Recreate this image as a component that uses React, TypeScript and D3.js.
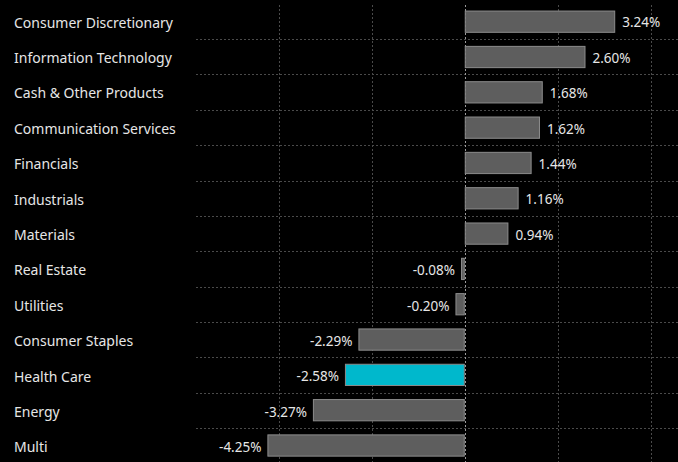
import React from "react";
import * as d3 from "d3";

const categories = [
  "Consumer Discretionary",
  "Information Technology",
  "Cash & Other Products",
  "Communication Services",
  "Financials",
  "Industrials",
  "Materials",
  "Real Estate",
  "Utilities",
  "Consumer Staples",
  "Health Care",
  "Energy",
  "Multi",
];
const values = [3.24, 2.6, 1.68, 1.62, 1.44, 1.16, 0.94, -0.08, -0.2, -2.29, -2.58, -3.27, -4.25];
const highlight = "Health Care";
const xTicks = [-4, -2, 0, 2, 4];

const W = 678;
const H = 462;
const FONT = "'Noto Sans', sans-serif";

export default function App() {
  const x = d3.scaleLinear().domain([-4, 4]).range([279, 650.5]);
  const y = d3.scaleBand<string>().domain(categories).range([3.5, 463.7]).paddingInner(0.37).paddingOuter(0.2);
  const band = d3.scaleBand<string>().domain(categories).range([3.5, 463.7]);
  const gridLeft = 196;
  const fmt = (v: number) => v.toFixed(2) + "%";

  return (
    <svg width={W} height={H} style={{ position: "fixed", left: 0, top: 0, background: "#000" }}>
      <rect x={0} y={0} width={W} height={H} fill="#000" />
      {categories.slice(0, -1).map((c) => {
        const yy = Math.round(band(c)! + band.bandwidth()) + 0.5;
        return <line key={"h" + c} x1={gridLeft} x2={W} y1={yy} y2={yy} stroke="#4a4a4a" strokeDasharray="2,2" />;
      })}
      {xTicks.map((t) => (
        <line
          key={"v" + t}
          x1={Math.round(x(t)) + 0.5}
          x2={Math.round(x(t)) + 0.5}
          y1={5}
          y2={H}
          stroke={t === 0 ? "#9a9a9a" : "#4a4a4a"}
          strokeDasharray="2,2"
        />
      ))}
      {categories.map((c, i) => {
        const v = values[i];
        const x0 = x(Math.min(0, v));
        const x1 = x(Math.max(0, v));
        const yc = band(c)! + band.bandwidth() / 2 + 1.5;
        return (
          <g key={c}>
            <text x={14} y={yc} dy="0.35em" fill="#e6e6e6" fontFamily={FONT} fontSize={14}>
              {c}
            </text>
            <rect
              x={x0 + 0.5}
              y={y(c)! + 0.5}
              width={Math.max(1, x1 - x0 - 1)}
              height={y.bandwidth() - 1}
              fill={c === highlight ? "#00b8cc" : "#5e5e5e"}
              stroke={c === highlight ? "#8a8a8a" : "#8c8c8c"}
              strokeWidth={1}
            />
            <text
              x={v >= 0 ? x1 + 7 : x0 - 6}
              y={yc}
              dy="0.35em"
              textAnchor={v >= 0 ? "start" : "end"}
              fill="#e6e6e6"
              fontFamily={FONT}
              fontSize={13.5}
            >
              {fmt(v)}
            </text>
          </g>
        );
      })}
    </svg>
  );
}
